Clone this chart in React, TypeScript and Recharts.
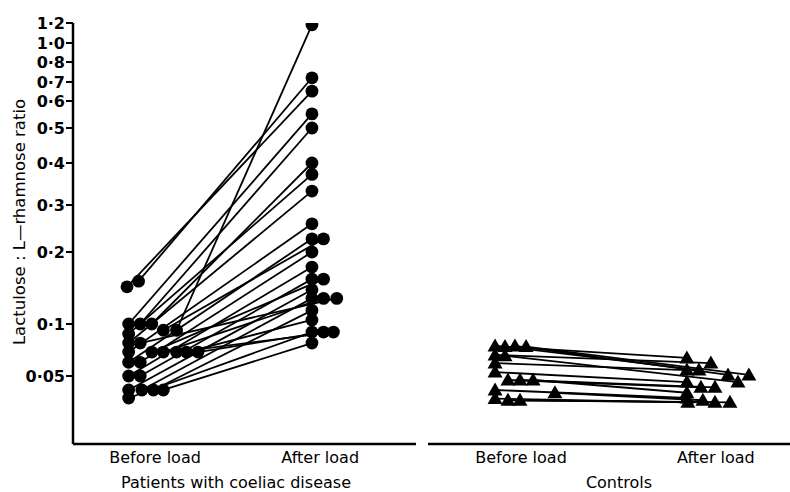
import { ScatterChart, Scatter, XAxis, YAxis } from "recharts";

// printed y graduations (ratio) and where they sit on the axis (axis units from the bottom);
// the original axis is hand-ruled, so it is neither linear nor a clean log scale
const yTicks = [0.05, 0.1, 0.2, 0.3, 0.4, 0.5, 0.6, 0.7, 0.8, 1.0, 1.2];
const yTickStops = [68, 120, 192, 239, 281, 316, 343, 362, 382, 401, 421];

const xTickLabels = ["Before load", "After load"];

// coeliac patients: before / after ratio, x = column 1 or 2 with the printed side-by-side offset
const coeliacBefore = [0.143, 0.151, 0.1, 0.1, 0.1, 0.092, 0.092, 0.0876, 0.0776, 0.0776, 0.0688, 0.0688, 0.0688, 0.0688, 0.0688, 0.0688, 0.06, 0.06, 0.05, 0.05, 0.0415, 0.0415, 0.0415, 0.0415, 0.0373];
const coeliacBeforeX = [0.83, 0.9, 0.84, 0.91, 0.98, 1.05, 1.13, 0.84, 0.84, 0.91, 0.84, 0.98, 1.05, 1.13, 1.19, 1.26, 0.84, 0.91, 0.84, 0.91, 0.84, 0.92, 0.99, 1.05, 0.84];
const coeliacAfter = [0.65, 0.72, 0.55, 0.5, 0.4, 0.224, 1.18, 0.37, 0.33, 0.128, 0.255, 0.154, 0.128, 0.0898, 0.104, 0.0898, 0.224, 0.2, 0.173, 0.154, 0.139, 0.128, 0.114, 0.0776, 0.0898];
const coeliacAfterX = [1.95, 1.95, 1.95, 1.95, 1.95, 2.02, 1.95, 1.95, 1.95, 2.1, 1.95, 2.02, 2.02, 2.08, 1.95, 2.02, 1.95, 1.95, 1.95, 1.95, 1.95, 1.95, 1.95, 1.95, 1.95];

// controls
const controlBefore = [0.0746, 0.074, 0.0746, 0.074, 0.0662, 0.0655, 0.0594, 0.0527, 0.0474, 0.0474, 0.0474, 0.0415, 0.04, 0.0362, 0.0362, 0.037];
const controlBeforeX = [0.867, 0.918, 0.969, 1.026, 0.867, 0.918, 0.867, 0.867, 0.933, 0.995, 1.062, 0.867, 1.174, 0.933, 0.995, 0.867];
const controlAfter = [0.0636, 0.0541, 0.0507, 0.0507, 0.0594, 0.0461, 0.0541, 0.0461, 0.043, 0.043, 0.04, 0.0373, 0.0362, 0.0352, 0.0352, 0.0352];
const controlAfterX = [1.851, 1.913, 2.062, 2.169, 1.974, 2.113, 1.851, 1.851, 1.923, 1.995, 1.851, 1.851, 1.933, 1.995, 2.072, 1.856];

const FONT = "'DejaVu Sans', sans-serif";

function toAxis(v: number) {
  let i = 0;
  while (i < yTicks.length - 2 && v > yTicks[i + 1]) i++;
  const a = yTicks[i];
  const b = yTicks[i + 1];
  return yTickStops[i] + ((yTickStops[i + 1] - yTickStops[i]) * Math.log(v / a)) / Math.log(b / a);
}

function fmtTick(t: number) {
  const i = yTickStops.indexOf(t);
  if (i < 0) return "";
  const v = yTicks[i];
  return (v < 0.1 ? v.toFixed(2) : v.toFixed(1)).replace(".", "\u00b7");
}

function pairs(bx: number[], by: number[], ax: number[], ay: number[]) {
  return by.map((b, i) => [
    { x: bx[i], y: toAxis(b) },
    { x: ax[i], y: toAxis(ay[i]) },
  ]);
}

const coeliacPairs = pairs(coeliacBeforeX, coeliacBefore, coeliacAfterX, coeliacAfter);
const controlPairs = pairs(controlBeforeX, controlBefore, controlAfterX, controlAfter);

const yDomain = [0, yTickStops[yTickStops.length - 1]];

const xTick = { fill: "#000", fontSize: 16, fontFamily: FONT };

const Dot = (p: any) => <circle cx={p.cx} cy={p.cy} r={6.4} fill="#000" />;

const Tri = (p: any) => (
  <polygon
    points={`${p.cx},${p.cy - 7.5} ${p.cx - 7.5},${p.cy + 5.5} ${p.cx + 7.5},${p.cy + 5.5}`}
    fill="#000"
  />
);

export default function App() {
  return (
    <div style={{ position: "absolute", left: 0, top: 0, width: 790, height: 492, background: "#fff" }}>
      <div style={{ position: "absolute", left: 0, top: 0 }}>
        <ScatterChart width={420} height={492} margin={{ top: 23, right: 4, bottom: 0, left: 13 }}>
          <XAxis
            type="number"
            dataKey="x"
            domain={[0.503, 2.58]}
            allowDataOverflow
            ticks={[1, 2]}
            interval={0}
            tickFormatter={(v: number) => xTickLabels[v - 1]}
            tick={xTick}
            tickLine={false}
            tickSize={0}
            tickMargin={8}
            height={48}
            axisLine={{ stroke: "#000", strokeWidth: 2.5 }}
            label={() => (
              <text x={236} y={488} textAnchor="middle" fontSize={16} fontFamily={FONT} fill="#000">
                Patients with coeliac disease
              </text>
            )}
          />
          <YAxis
            type="number"
            dataKey="y"
            domain={yDomain}
            allowDataOverflow
            ticks={yTickStops}
            interval={0}
            tickFormatter={fmtTick}
            width={60}
            tickSize={7}
            tickMargin={1}
            tick={{ fill: "#000", fontSize: 16, fontWeight: "bold", fontFamily: FONT }}
            tickLine={{ stroke: "#000", strokeWidth: 2 }}
            axisLine={{ stroke: "#000", strokeWidth: 2.5 }}
            label={() => (
              <text
                x={20}
                y={222}
                transform="rotate(-90 20 222)"
                textAnchor="middle"
                dominantBaseline="middle"
                fontSize={16.5}
                fontFamily={FONT}
                fill="#000"
              >
                Lactulose : L—rhamnose ratio
              </text>
            )}
          />
          {coeliacPairs.map((d, i) => (
            <Scatter
              key={i}
              data={d}
              shape={Dot}
              fill="#000"
              line={{ stroke: "#000", strokeWidth: 1.8 }}
              isAnimationActive={false}
            />
          ))}
        </ScatterChart>
      </div>
      <div style={{ position: "absolute", left: 416, top: 0 }}>
        <ScatterChart width={374} height={492} margin={{ top: 23, right: 0, bottom: 0, left: 12 }}>
          <XAxis
            type="number"
            dataKey="x"
            domain={[0.523, 2.38]}
            allowDataOverflow
            ticks={[1, 2]}
            interval={0}
            tickFormatter={(v: number) => xTickLabels[v - 1]}
            tick={xTick}
            tickLine={false}
            tickSize={0}
            tickMargin={8}
            height={48}
            axisLine={{ stroke: "#000", strokeWidth: 2.5 }}
            label={() => (
              <text x={203} y={488} textAnchor="middle" fontSize={16} fontFamily={FONT} fill="#000">
                Controls
              </text>
            )}
          />
          <YAxis type="number" dataKey="y" domain={yDomain} allowDataOverflow hide />
          {controlPairs.map((d, i) => (
            <Scatter
              key={i}
              data={d}
              shape={Tri}
              fill="#000"
              line={{ stroke: "#000", strokeWidth: 1.8 }}
              isAnimationActive={false}
            />
          ))}
        </ScatterChart>
      </div>
    </div>
  );
}
